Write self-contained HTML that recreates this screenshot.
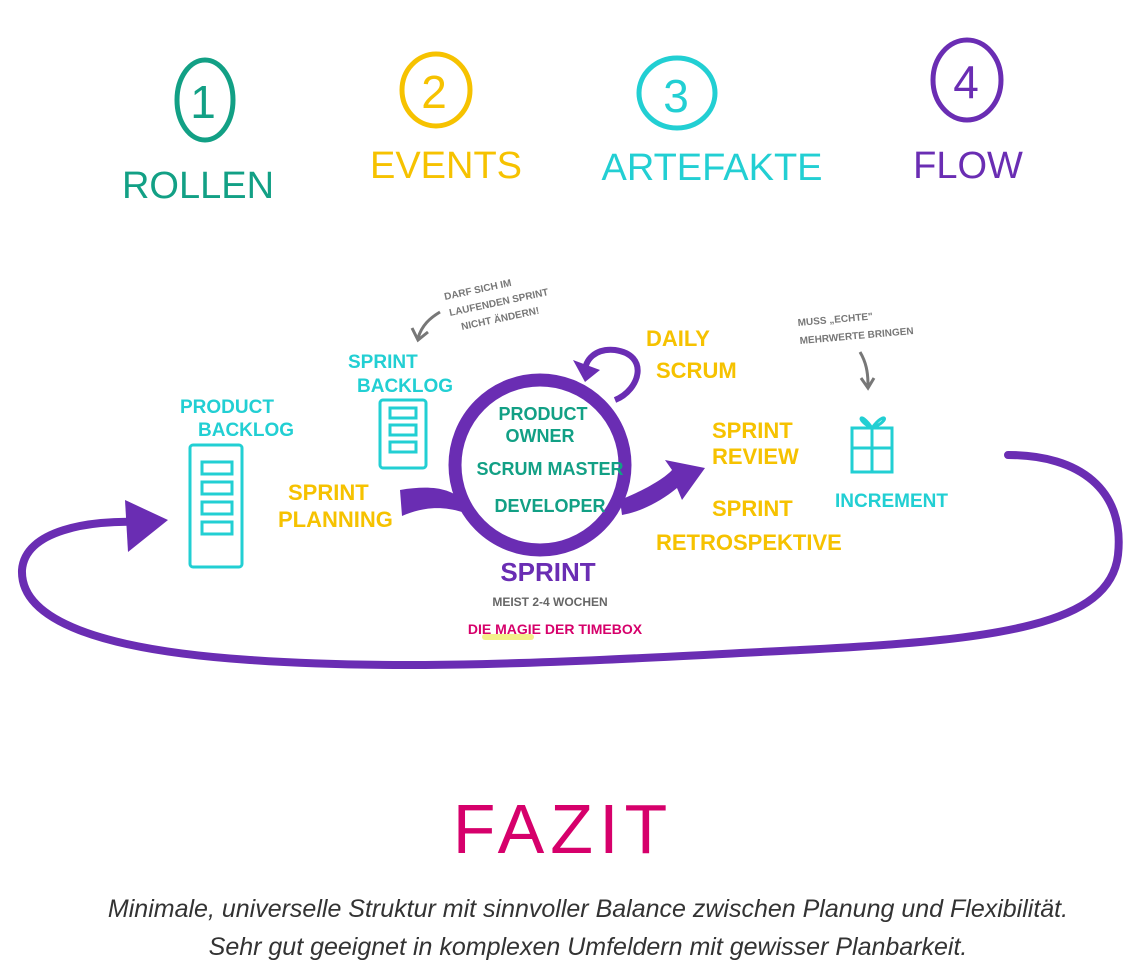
<!DOCTYPE html>
<html><head><meta charset="utf-8"><style>
html,body{margin:0;padding:0;background:#fff;}
svg{display:block}
text{font-family:"Liberation Sans",sans-serif;font-weight:bold}
</style></head><body>
<svg width="1144" height="961" viewBox="0 0 1144 961" xmlns="http://www.w3.org/2000/svg">
<g fill="none" stroke-width="5" stroke-linecap="round">
<ellipse cx="205" cy="100" rx="28" ry="40" stroke="#12a085"/>
<ellipse cx="436" cy="90" rx="34" ry="36" stroke="#f6c200"/>
<ellipse cx="677" cy="93" rx="38" ry="35" stroke="#22cfd3"/>
<ellipse cx="967" cy="80" rx="34" ry="40" stroke="#6a2db3"/>
</g>
<g font-size="46" text-anchor="middle">
<text x="203" y="118" fill="#12a085" style="font-weight:normal">1</text>
<text x="434" y="108" fill="#f6c200" style="font-weight:normal">2</text>
<text x="676" y="112" fill="#22cfd3" style="font-weight:normal">3</text>
<text x="966" y="98" fill="#6a2db3" style="font-weight:normal">4</text>
</g>
<g font-size="38" text-anchor="middle">
<text x="198" y="198" fill="#12a085" style="font-weight:normal">ROLLEN</text>
<text x="446" y="178" fill="#f6c200" style="font-weight:normal">EVENTS</text>
<text x="712" y="180" fill="#22cfd3" style="font-weight:normal">ARTEFAKTE</text>
<text x="968" y="178" fill="#6a2db3" style="font-weight:normal">FLOW</text>
</g>
<path d="M1008,455 C1080,455 1125,490 1118,555 C1110,625 1000,640 800,650 C600,660 420,672 250,660 C100,650 20,620 22,570 C25,530 90,520 140,522" fill="none" stroke="#6a2db3" stroke-width="8" stroke-linecap="round"/>
<path d="M125,500 L168,520 L128,552 Z" fill="#6a2db3"/>
<circle cx="540" cy="465" r="85" fill="none" stroke="#6a2db3" stroke-width="13"/>
<path d="M400,490 C430,485 450,488 462,500 L462,512 C440,505 420,508 402,516 Z" fill="#6a2db3"/>
<path d="M620,500 C645,490 665,478 672,470 L665,460 L705,468 L682,500 L677,488 C660,502 640,512 622,515 Z" fill="#6a2db3"/>
<path d="M615,400 C640,390 650,355 615,350 C595,348 585,360 585,372" fill="none" stroke="#6a2db3" stroke-width="6"/>
<path d="M573,360 L600,370 L585,382 Z" fill="#6a2db3"/>
<g fill="#12a085" font-size="18" text-anchor="middle">
<text x="543" y="420">PRODUCT</text><text x="540" y="442">OWNER</text>
<text x="550" y="475">SCRUM MASTER</text>
<text x="550" y="512">DEVELOPER</text>
</g>
<text x="548" y="581" fill="#6a2db3" font-size="26" text-anchor="middle">SPRINT</text>
<text x="550" y="606" fill="#666" font-size="12" text-anchor="middle">MEIST 2-4 WOCHEN</text>
<rect x="482" y="634" width="52" height="6" fill="#f3f08a" rx="3"/>
<text x="555" y="634" fill="#d6006b" font-size="14" text-anchor="middle">DIE MAGIE DER TIMEBOX</text>
<g fill="#f6c200" font-size="22">
<text x="288" y="500">SPRINT</text><text x="278" y="527">PLANNING</text>
<text x="646" y="346">DAILY</text><text x="656" y="378">SCRUM</text>
<text x="712" y="438">SPRINT</text><text x="712" y="464">REVIEW</text>
<text x="712" y="516">SPRINT</text><text x="656" y="550">RETROSPEKTIVE</text>
</g>
<g fill="#22cfd3" font-size="19">
<text x="180" y="413">PRODUCT</text><text x="198" y="436">BACKLOG</text>
<text x="348" y="368">SPRINT</text><text x="357" y="392">BACKLOG</text>
<text x="835" y="507">INCREMENT</text>
</g>
<g fill="none" stroke="#22cfd3" stroke-width="3">
<rect x="190" y="445" width="52" height="122" rx="3"/>
<rect x="202" y="462" width="30" height="12"/><rect x="202" y="482" width="30" height="12"/><rect x="202" y="502" width="30" height="12"/><rect x="202" y="522" width="30" height="12"/>
<rect x="380" y="400" width="46" height="68" rx="3"/>
<rect x="390" y="408" width="26" height="10"/><rect x="390" y="425" width="26" height="10"/><rect x="390" y="442" width="26" height="10"/>
<rect x="852" y="428" width="40" height="44"/><line x1="872" y1="428" x2="872" y2="472"/><line x1="852" y1="448" x2="892" y2="448"/>
<path d="M872,428 C860,410 855,420 872,428 C885,410 892,420 872,428"/>
</g>
<g fill="#777" font-size="10">
<text x="445" y="300" transform="rotate(-12 445 300)">DARF SICH IM</text>
<text x="450" y="316" transform="rotate(-12 450 316)">LAUFENDEN SPRINT</text>
<text x="462" y="330" transform="rotate(-12 462 330)">NICHT ÄNDERN!</text>
<text x="798" y="326" transform="rotate(-5 798 326)">MUSS „ECHTE"</text>
<text x="800" y="344" transform="rotate(-5 800 344)">MEHRWERTE BRINGEN</text>
</g>
<g fill="none" stroke="#777" stroke-width="3">
<path d="M440,312 C430,318 422,325 418,338"/><path d="M412,328 L418,340 L428,332"/>
<path d="M860,352 C866,362 868,372 868,385"/><path d="M861,378 L868,388 L874,378"/>
</g>
<text x="563" y="853" fill="#d6006b" font-size="70" text-anchor="middle" style="font-weight:normal;letter-spacing:6px">FAZIT</text>
<g fill="#333" font-size="25" font-style="italic" text-anchor="middle">
<text x="588" y="917" style="font-weight:normal">Minimale, universelle Struktur mit sinnvoller Balance zwischen Planung und Flexibilität.</text>
<text x="588" y="955" style="font-weight:normal">Sehr gut geeignet in komplexen Umfeldern mit gewisser Planbarkeit.</text>
</g>
</svg>
</body></html>
